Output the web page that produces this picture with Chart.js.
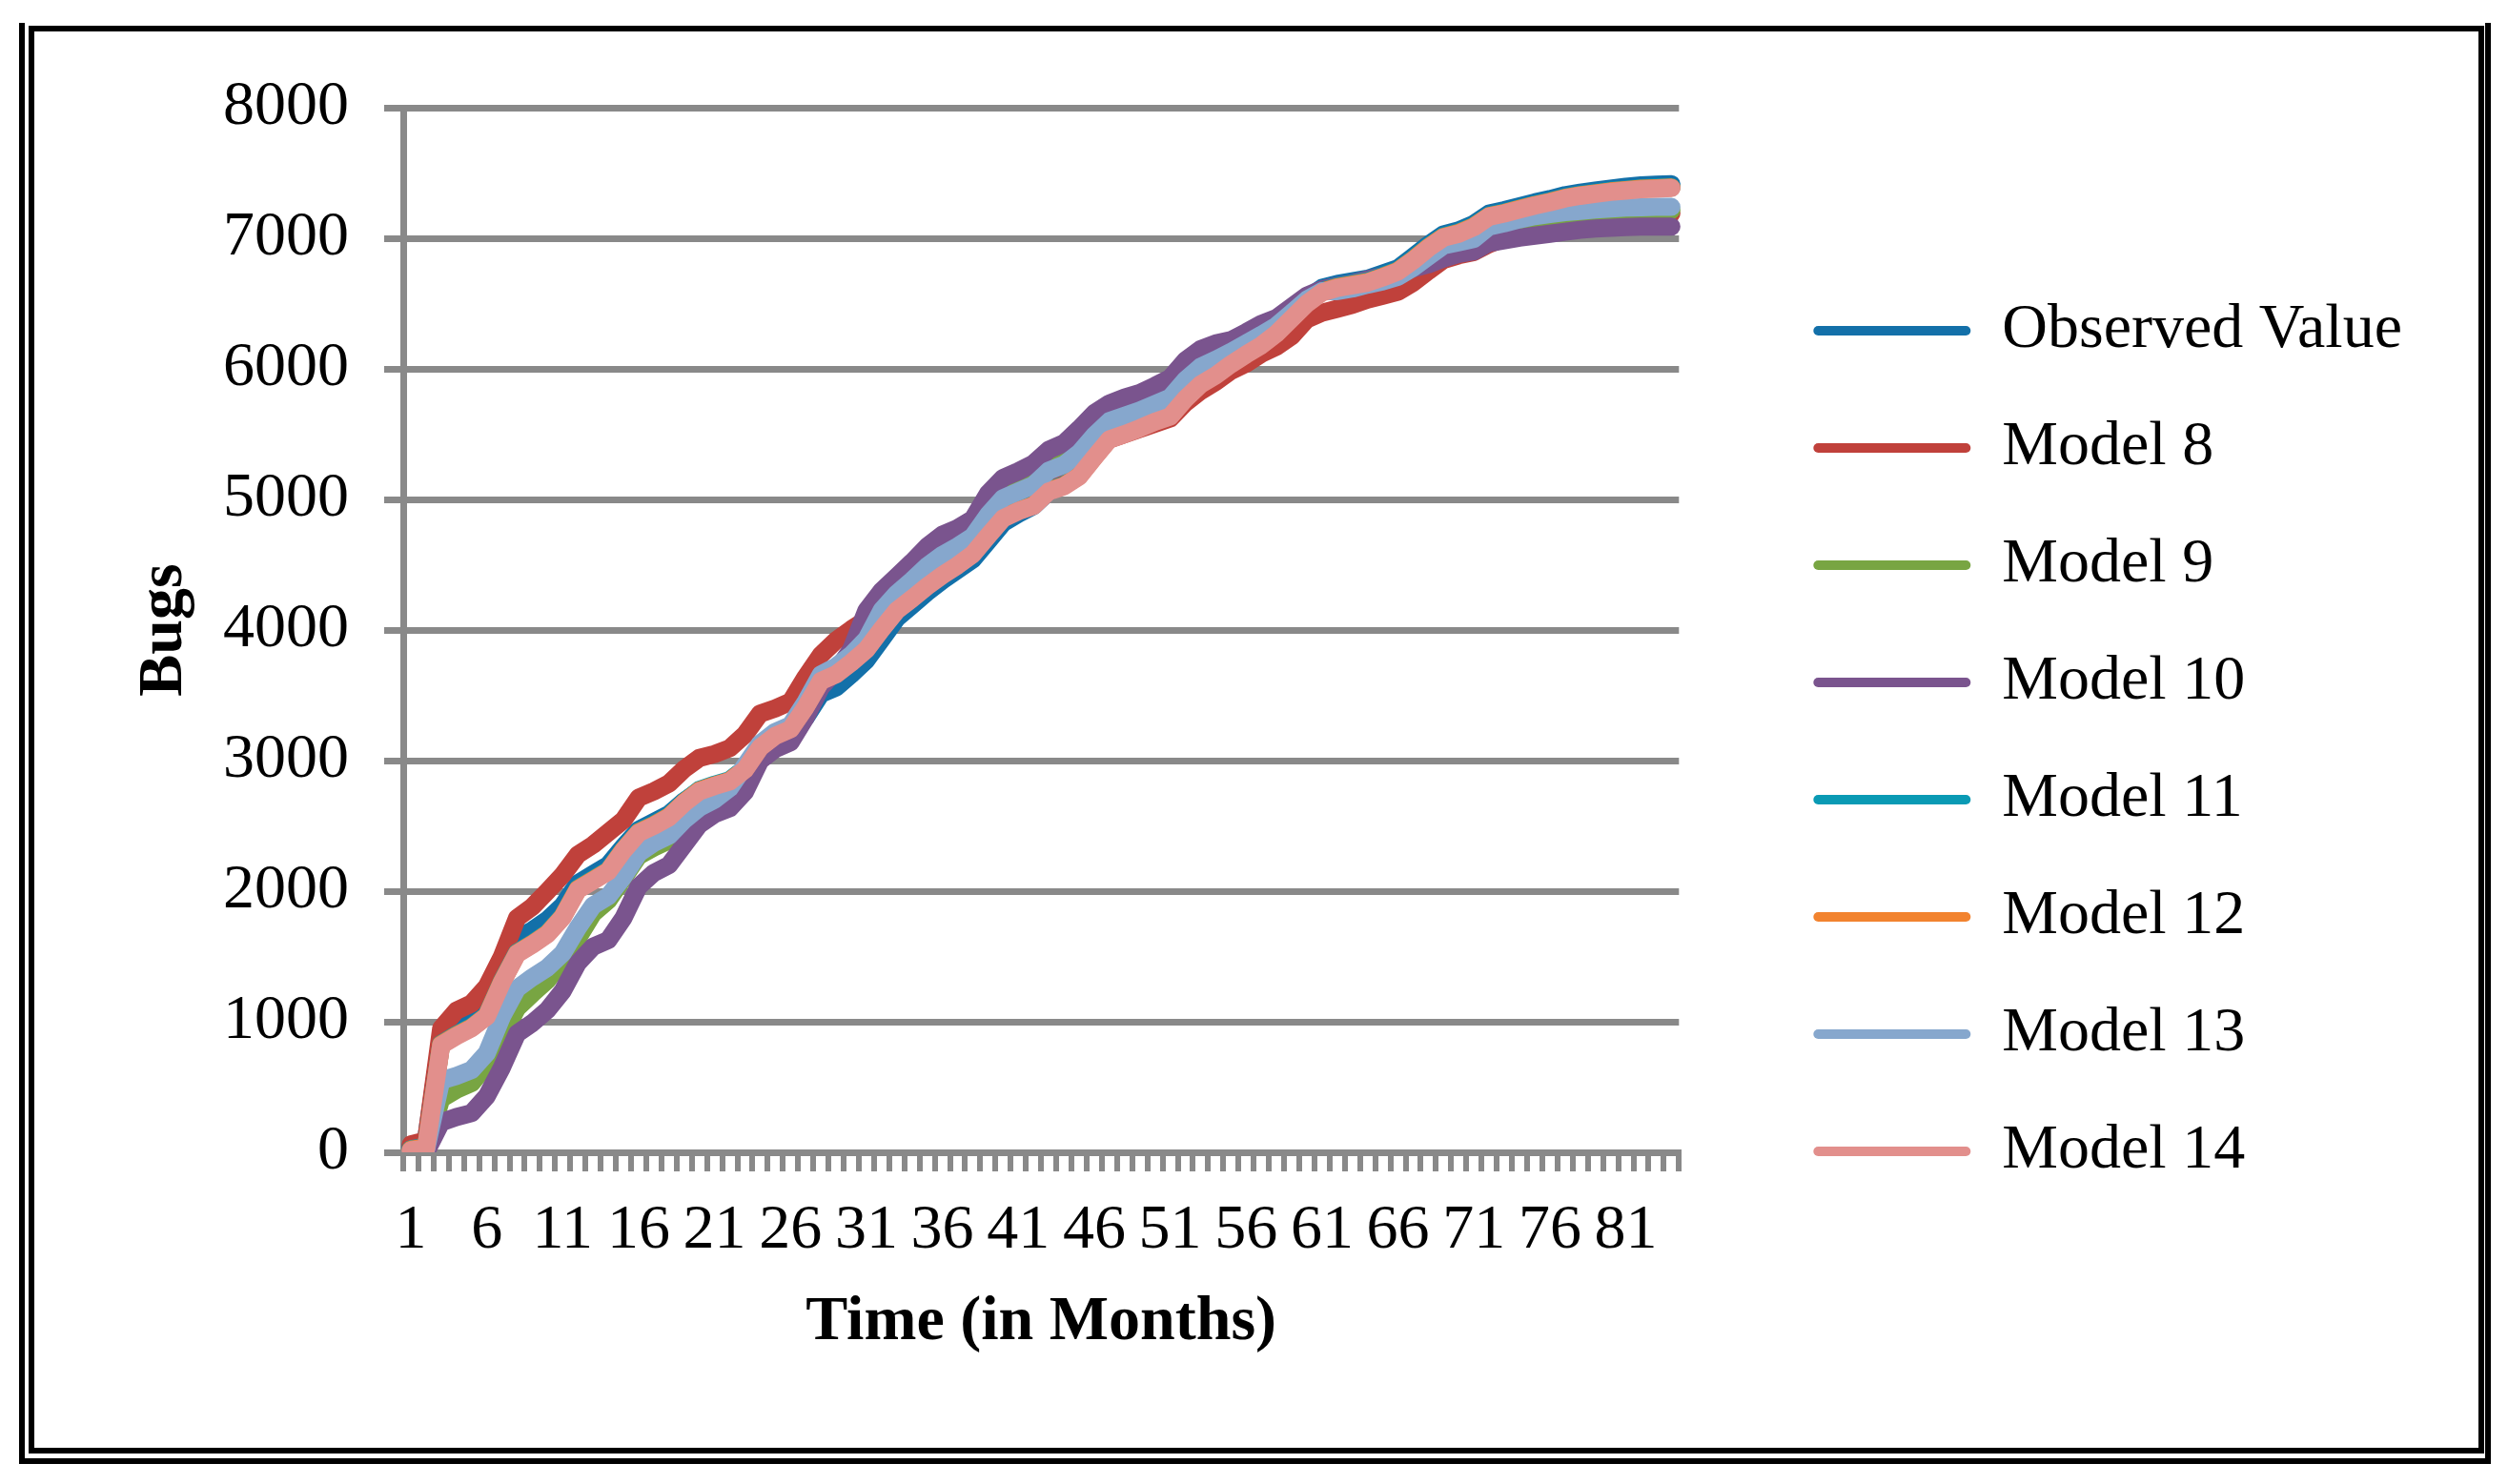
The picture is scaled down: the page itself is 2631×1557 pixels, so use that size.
<!DOCTYPE html>
<html>
<head>
<meta charset="utf-8">
<script src="https://cdn.jsdelivr.net/npm/chart.js@4.4.1/dist/chart.umd.min.js"></script>
<style>
    body { margin: 0; background: #fff; }
    #quadro { position: relative; width: 2631px; height: 1557px; }
    .moldura { position: absolute; box-sizing: border-box; border: 6px solid #000; }
    #externa { left: 20px; top: 24px; width: 2593px; height: 1512px; border-top: none; }
    #interna { left: 30px; top: 27px; width: 2576px; height: 1498px; }
    #grafico { position: absolute; left: 0; top: 0; }
</style>
</head>
<body>
<div id="quadro">
    <div class="moldura" id="externa"></div>
    <div class="moldura" id="interna"></div>
    <canvas id="grafico" width="2631" height="1557"></canvas>
</div>
<script>
const meses = [
    1, 2, 3, 4, 5, 6, 7, 8, 9, 10, 11, 12, 13, 14, 15, 16, 17, 18, 19, 20, 21,
    22, 23, 24, 25, 26, 27, 28, 29, 30, 31, 32, 33, 34, 35, 36, 37, 38, 39, 40, 41, 42,
    43, 44, 45, 46, 47, 48, 49, 50, 51, 52, 53, 54, 55, 56, 57, 58, 59, 60, 61, 62, 63,
    64, 65, 66, 67, 68, 69, 70, 71, 72, 73, 74, 75, 76, 77, 78, 79, 80, 81, 82, 83, 84
];

const ticksY = [0, 1000, 2000, 3000, 4000, 5000, 6000, 7000, 8000];

const observado = [
    50, 90, 900, 970, 1010, 1150, 1400, 1640, 1700, 1780, 1890, 2060, 2130, 2200, 2340, 2470, 2530, 2590, 2690, 2770, 2810,
    2840, 2920, 3080, 3160, 3200, 3330, 3510, 3560, 3660, 3770, 3930, 4090, 4190, 4290, 4380, 4460, 4540, 4680, 4820, 4890,
    4950, 5060, 5110, 5190, 5330, 5470, 5515, 5560, 5610, 5650, 5790, 5900, 5970, 6060, 6140, 6210, 6300, 6420, 6540, 6620,
    6650, 6670, 6690, 6730, 6770, 6860, 6950, 7030, 7060, 7110, 7190, 7215, 7245, 7275, 7300, 7330, 7350, 7365, 7380, 7395,
    7405, 7410, 7415
];

const modelo8 = [
    60, 90, 950, 1085, 1140, 1270, 1500, 1795, 1880, 2000, 2125, 2280, 2355, 2450, 2545, 2715, 2765, 2825, 2935, 3020, 3050,
    3095, 3200, 3360, 3400, 3450, 3640, 3810, 3920, 4005, 4080, 4200, 4300, 4390, 4480, 4570, 4640, 4710, 4850, 4960, 5030,
    5090, 5170, 5230, 5290, 5390, 5460, 5500, 5540, 5580, 5620, 5740, 5830, 5900, 5985, 6040, 6115, 6170, 6250, 6380, 6430,
    6460, 6490, 6530, 6560, 6590, 6660, 6750, 6835, 6870, 6895, 6955, 7000, 7030, 7060, 7090, 7110, 7130, 7150, 7160, 7170,
    7180, 7185, 7190
];

const modelo9 = [
    0, 10, 410, 480, 530, 670, 885, 1105, 1215, 1320, 1470, 1640, 1830, 1930, 2100, 2270, 2335, 2390, 2510, 2610, 2670,
    2720, 2850, 3060, 3150, 3200, 3390, 3610, 3700, 3830, 4050, 4230, 4340, 4450, 4565, 4655, 4710, 4780, 4960, 5085, 5135,
    5190, 5300, 5350, 5450, 5580, 5670, 5710, 5750, 5800, 5860, 5990, 6080, 6130, 6175, 6240, 6300, 6360, 6450, 6545, 6600,
    6620, 6640, 6670, 6695, 6725, 6775, 6840, 6910, 6940, 6960, 7040, 7070, 7100, 7125, 7145, 7160, 7175, 7190, 7200, 7205,
    7210, 7212, 7215
];

const modelo10 = [
    0, 0, 230, 270, 300, 430, 650, 910, 990, 1090, 1235, 1450, 1575, 1625, 1795, 2035, 2140, 2200, 2355, 2510, 2590,
    2635, 2760, 3000, 3090, 3140, 3330, 3560, 3690, 3850, 4150, 4300, 4410, 4520, 4640, 4730, 4780, 4850, 5045, 5165, 5215,
    5275, 5380, 5430, 5540, 5660, 5735, 5780, 5815, 5870, 5930, 6065, 6150, 6195, 6220, 6280, 6345, 6390, 6475, 6560, 6610,
    6635, 6655, 6685, 6710, 6740, 6770, 6800, 6845, 6880, 6900, 6965, 6985, 7005, 7020, 7035, 7050, 7065, 7075, 7080, 7085,
    7090, 7090, 7090
];

const modelo11 = [
    25, 40, 830, 900, 960, 1050, 1310, 1530, 1600, 1680, 1810, 2020, 2090, 2160, 2320, 2455, 2510, 2575, 2685, 2775, 2815,
    2850, 2940, 3110, 3200, 3250, 3420, 3620, 3670, 3760, 3860, 4015, 4160, 4250, 4345, 4430, 4505, 4590, 4730, 4865, 4920,
    4960, 5070, 5110, 5185, 5330, 5470, 5510, 5555, 5605, 5645, 5780, 5890, 5960, 6045, 6120, 6190, 6280, 6395, 6510, 6595,
    6630, 6650, 6670, 6710, 6755, 6840, 6935, 7015, 7045, 7095, 7173, 7198, 7228, 7258, 7283, 7313, 7333, 7348, 7363, 7373,
    7383, 7388, 7393
];

const modelo12 = [
    20, 35, 825, 895, 955, 1045, 1305, 1525, 1595, 1675, 1805, 2015, 2085, 2155, 2315, 2450, 2505, 2570, 2680, 2770, 2810,
    2845, 2935, 3105, 3195, 3245, 3415, 3615, 3665, 3755, 3855, 4010, 4155, 4245, 4340, 4425, 4500, 4585, 4725, 4860, 4915,
    4955, 5065, 5105, 5180, 5325, 5465, 5505, 5550, 5600, 5640, 5775, 5885, 5955, 6040, 6115, 6185, 6275, 6390, 6505, 6590,
    6625, 6645, 6665, 6705, 6750, 6835, 6930, 7010, 7040, 7090, 7169, 7194, 7224, 7254, 7279, 7309, 7329, 7344, 7359, 7369,
    7379, 7384, 7389
];

const modelo13 = [
    0, 20, 550, 585, 630, 760, 1040, 1255, 1340, 1415, 1525, 1720, 1890, 1960, 2110, 2290, 2370, 2425, 2545, 2640, 2700,
    2790, 2960, 3130, 3220, 3270, 3450, 3660, 3720, 3810, 3930, 4150, 4280, 4380, 4490, 4575, 4640, 4715, 4880, 5010, 5060,
    5110, 5220, 5265, 5355, 5490, 5600, 5640, 5680, 5730, 5780, 5915, 6015, 6070, 6130, 6195, 6260, 6330, 6430, 6530, 6595,
    6595, 6615, 6645, 6670, 6705, 6775, 6860, 6945, 6970, 6995, 7090, 7115, 7145, 7170, 7185, 7200, 7210, 7220, 7228, 7235,
    7238, 7240, 7240
];

const modelo14 = [
    15, 30, 820, 890, 950, 1040, 1300, 1520, 1590, 1670, 1800, 2010, 2080, 2150, 2310, 2445, 2500, 2565, 2675, 2765, 2805,
    2840, 2930, 3100, 3190, 3240, 3410, 3610, 3660, 3750, 3850, 4005, 4150, 4240, 4335, 4420, 4495, 4580, 4720, 4855, 4910,
    4950, 5060, 5100, 5175, 5320, 5460, 5500, 5545, 5595, 5635, 5770, 5880, 5950, 6035, 6110, 6180, 6270, 6385, 6500, 6585,
    6620, 6640, 6660, 6700, 6745, 6830, 6925, 7005, 7035, 7085, 7165, 7190, 7220, 7250, 7275, 7305, 7325, 7340, 7355, 7365,
    7375, 7380, 7385
];

const nomes = ["Observed Value", "Model 8", "Model 9", "Model 10", "Model 11", "Model 12", "Model 13", "Model 14"];
const series = [observado, modelo8, modelo9, modelo10, modelo11, modelo12, modelo13, modelo14];
const cores = ["#1370A9", "#C0413B", "#78A542", "#7A548E", "#0A9AB4", "#F2832F", "#86A7CD", "#E28F8C"];

const fonte = "'Liberation Serif', 'Times New Roman', serif";
const cinza = "#898989";

const datasets = series.map((dados, i) => ({
    label: nomes[i],
    data: dados,
    borderColor: cores[i],
    backgroundColor: cores[i],
    borderWidth: 19,
    pointRadius: 0,
    tension: 0,
    borderJoinStyle: "round",
    borderCapStyle: "round",
    order: series.length - i
}));

// a legenda lateral fica limitada a metade da largura; deixa ela usar o tamanho real
const legendaLarga = {
    id: "legendaLarga",
    beforeLayout(chart) {
        const legenda = chart.legend;
        if (legenda && !legenda._larga) {
            const fitOriginal = legenda.fit;
            legenda.fit = function () {
                this.maxWidth = 900;
                fitOriginal.call(this);
            };
            legenda._larga = true;
        }
    }
};

new Chart(document.getElementById("grafico"), {
    type: "line",
    data: {
        labels: meses,
        datasets
    },
    plugins: [legendaLarga],
    options: {
        responsive: false,
        devicePixelRatio: 1,
        animation: false,
        layout: {
            padding: { left: 100, top: 113, right: 101, bottom: 115 }
        },
        plugins: {
            tooltip: { enabled: false },
            legend: {
                position: "right",
                labels: {
                    font: { family: fonte, size: 66 },
                    color: "#000",
                    boxWidth: 165,
                    boxHeight: 10,
                    padding: 57,
                    useBorderRadius: true,
                    borderRadius: 5,
                    sort: (a, b) => a.datasetIndex - b.datasetIndex,
                    generateLabels: function (chart) {
                        return Chart.defaults.plugins.legend.labels.generateLabels(chart).map(item => ({
                            ...item,
                            lineWidth: 0,
                            fillStyle: cores[item.datasetIndex]
                        }));
                    }
                }
            }
        },
        scales: {
            x: {
                offset: true,
                grid: {
                    offset: true,
                    drawOnChartArea: false,
                    drawTicks: true,
                    tickLength: 20,
                    lineWidth: 6,
                    color: cinza
                },
                border: { color: cinza, width: 7 },
                ticks: {
                    autoSkip: false,
                    maxRotation: 0,
                    padding: 23,
                    color: "#000",
                    font: { family: fonte, size: 66 },
                    callback: function (valor, indice) {
                        return indice % 5 === 0 ? String(meses[indice]) : "";
                    }
                },
                title: {
                    display: true,
                    text: "Time (in Months)",
                    color: "#000",
                    font: { family: fonte, size: 66, weight: "bold" },
                    padding: { top: 0, bottom: 14 }
                },
                afterFit: function (escala) {
                    escala.height = 233;
                }
            },
            y: {
                min: ticksY[0],
                max: ticksY[ticksY.length - 1],
                afterBuildTicks: function (escala) {
                    escala.ticks = ticksY.map(v => ({ value: v }));
                },
                grid: {
                    color: cinza,
                    lineWidth: 7,
                    tickLength: 20,
                    drawTicks: true
                },
                border: { color: cinza, width: 7 },
                ticks: {
                    padding: 37,
                    color: "#000",
                    font: { family: fonte, size: 66 },
                    callback: function (valor) {
                        return String(valor);
                    }
                },
                title: {
                    display: true,
                    text: "Bugs",
                    color: "#000",
                    font: { family: fonte, size: 66, weight: "bold" },
                    padding: { top: 33, bottom: 21 }
                },
                afterFit: function (escala) {
                    escala.width = 323;
                }
            },
            espaco: {
                position: "right",
                display: true,
                grid: { display: false, drawTicks: false },
                border: { display: false },
                ticks: { display: false },
                afterFit: function (escala) {
                    escala.width = 84;
                }
            }
        }
    }
});
</script>
</body>
</html>
